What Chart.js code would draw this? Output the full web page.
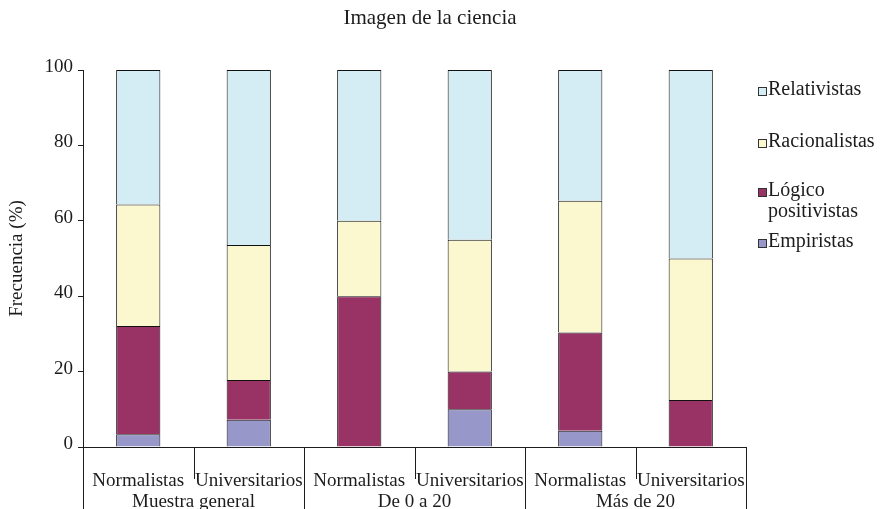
<!DOCTYPE html>
<html>
<head>
<meta charset="utf-8">
<script src="https://cdn.jsdelivr.net/npm/chart.js@4.4.1/dist/chart.umd.min.js"></script>
<style>
  html, body { margin: 0; padding: 0; background: #fff; }
  #wrap { width: 881px; height: 509px; }
</style>
</head>
<body>
<div id="wrap"><canvas id="imagen"></canvas></div>
<script>
const titulo = 'Imagen de la ciencia';
const ejeY = 'Frecuencia (%)';
const categories = ['Normalistas', 'Universitarios', 'Normalistas', 'Universitarios', 'Normalistas', 'Universitarios'];
const groups = ['Muestra general', 'De 0 a 20', 'Más de 20'];

// percent of each segment, bottom to top
const empiristas = [3.4, 7.2, 0, 10, 4.3, 0];
const logicoPositivistas = [28.7, 10.6, 40, 10, 26.1, 12.5];
const racionalistas = [32.2, 35.8, 20, 35, 34.9, 37.5];
const relativistas = [35.7, 46.4, 40, 45, 34.7, 50];
const yTicks = [0, 20, 40, 60, 80, 100];

// legend text, top entry first (Lógico positivistas wraps on two lines)
const legendLabels = [['Relativistas'], ['Racionalistas'], ['Lógico', 'positivistas'], ['Empiristas']];

const FONT = "'Liberation Serif', 'Times New Roman', serif";
const INK = '#1c1c1c';

// title, legend on the right and the two level category axis
const extras = {
  id: 'extras',
  afterDraw(chart) {
    const { ctx, chartArea, scales: { x } } = chart;
    const bottom = chartArea.bottom;
    const n = categories.length;
    const half = (x.getPixelForValue(1) - x.getPixelForValue(0)) / 2;
    ctx.save();
    ctx.strokeStyle = INK;
    ctx.lineWidth = 1;
    for (let i = 0; i <= n; i++) {
      const edge = i < n ? x.getPixelForValue(i) - half : x.getPixelForValue(n - 1) + half;
      const px = Math.round(edge) + 0.5;
      ctx.beginPath();
      ctx.moveTo(px, bottom);
      ctx.lineTo(px, i % 2 === 0 ? chart.height : bottom + 32);
      ctx.stroke();
    }

    ctx.fillStyle = INK;
    ctx.font = '19px ' + FONT;
    ctx.textAlign = 'center';
    ctx.textBaseline = 'alphabetic';
    groups.forEach((g, i) => {
      const cx = (x.getPixelForValue(i * 2) + x.getPixelForValue(i * 2 + 1)) / 2;
      ctx.fillText(g, cx, 507);
    });

    ctx.font = '21px ' + FONT;
    ctx.fillText(titulo, 430, 24);

    // legend
    const sets = chart.data.datasets.slice().reverse();
    const baselines = [95, 147, 196, 247];
    ctx.font = '20px ' + FONT;
    ctx.textAlign = 'left';
    sets.forEach((ds, i) => {
      const b = baselines[i];
      ctx.fillStyle = ds.backgroundColor;
      ctx.fillRect(758, b - 8, 9, 9);
      ctx.strokeStyle = '#333';
      ctx.strokeRect(758.5, b - 7.5, 8, 8);
      ctx.fillStyle = INK;
      legendLabels[i].forEach((line, k) => ctx.fillText(line, 768, b + k * 21));
    });
    ctx.restore();
  }
};

new Chart('imagen', {
  type: 'bar',
  data: {
    labels: categories,
    datasets: [
      { label: 'Empiristas', data: empiristas, backgroundColor: '#9797C9' },
      { label: 'Lógico positivistas', data: logicoPositivistas, backgroundColor: '#993366' },
      { label: 'Racionalistas', data: racionalistas, backgroundColor: '#FBF8D0' },
      { label: 'Relativistas', data: relativistas, backgroundColor: '#D4ECF3' },
    ].map(ds => Object.assign(ds, {
      borderColor: '#111',
      borderWidth: 1,
      barPercentage: 0.4,
      categoryPercentage: 1,
    })),
  },
  options: {
    responsive: true,
    maintainAspectRatio: false,
    animation: false,
    layout: { padding: { top: 70, right: 135, left: 0, bottom: 0 } },
    plugins: {
      legend: { display: false },
      title: { display: false },
      tooltip: { enabled: false },
    },
    scales: {
      x: {
        stacked: true,
        grid: { display: false },
        border: { display: true, color: INK, width: 1 },
        ticks: { color: INK, font: { family: FONT, size: 19 }, padding: 15, maxRotation: 0, autoSkip: false },
        afterFit: (scale) => { scale.height = 62; },
      },
      y: {
        stacked: true,
        min: 0,
        max: 100,
        afterBuildTicks: (scale) => { scale.ticks = yTicks.map(v => ({ value: v })); },
        grid: { drawOnChartArea: false, tickLength: 5, color: INK },
        border: { display: true, color: INK, width: 1 },
        ticks: { color: INK, font: { family: FONT, size: 19 }, padding: 5, labelOffset: -3 },
        title: { display: true, text: ejeY, color: INK, font: { family: FONT, size: 19 }, padding: { top: 6, bottom: 0 } },
        afterFit: (scale) => { scale.width = 83; },
      },
    },
  },
  plugins: [extras],
});
</script>
</body>
</html>
